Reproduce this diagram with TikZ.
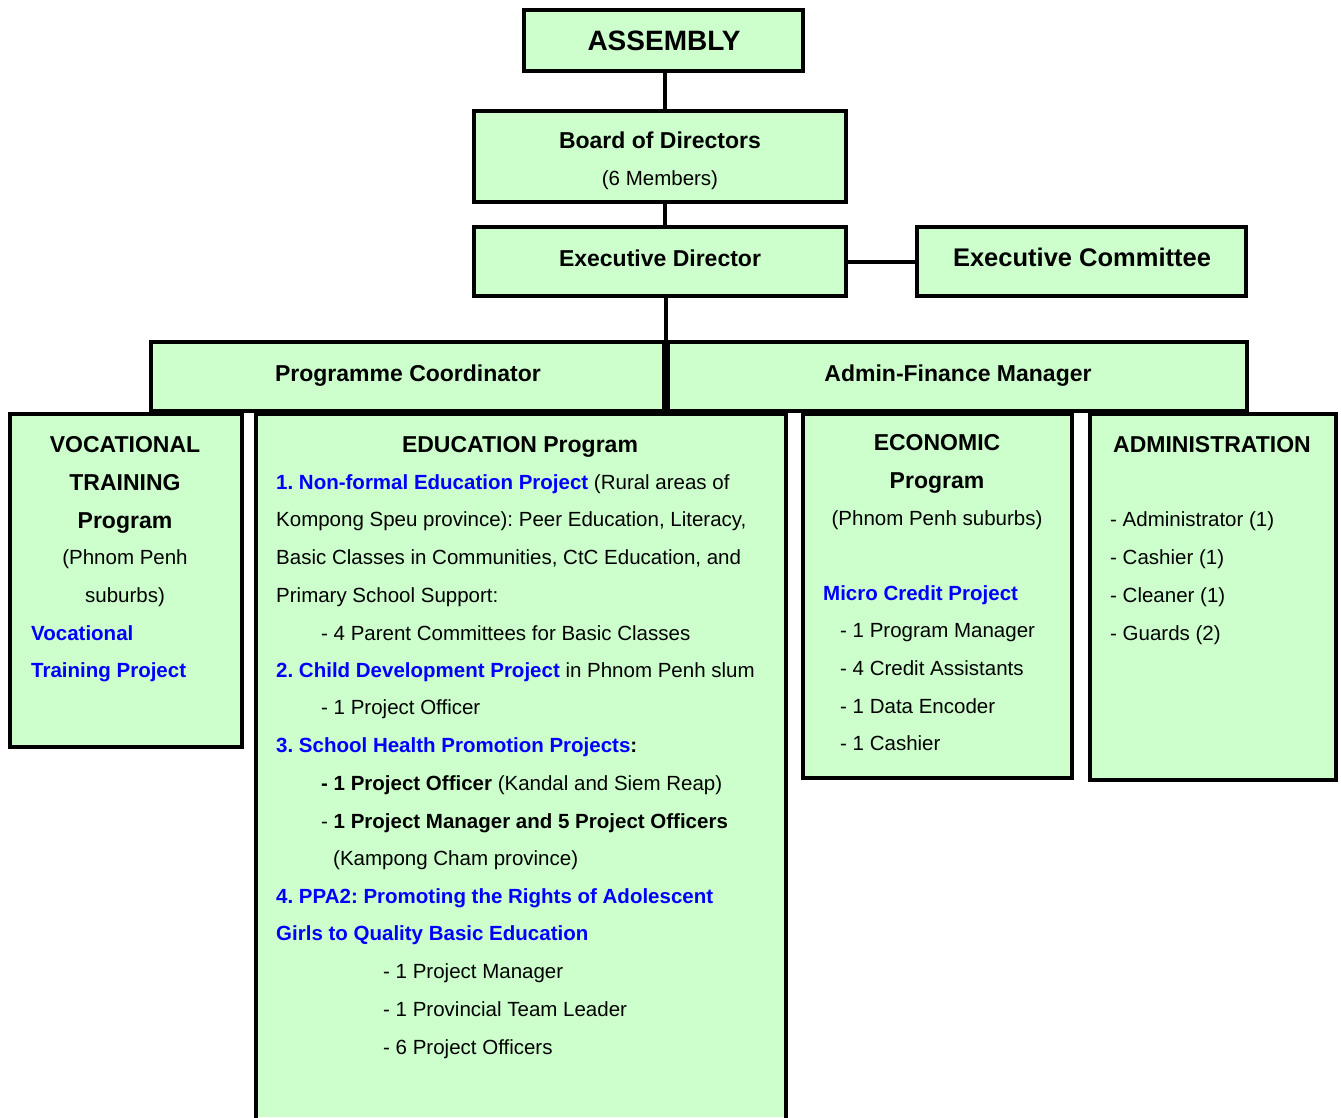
\documentclass[tikz,border=0pt]{standalone}
\usepackage{fontspec}
\setmainfont{Liberation Sans}
\frenchspacing
\definecolor{boxgreen}{HTML}{CCFFCC}
\definecolor{projblue}{HTML}{0000FF}
\newcommand{\fbody}{\fontsize{20.5}{24}\selectfont}
\newcommand{\fhead}{\fontsize{23}{27}\selectfont\bfseries}
\newcommand{\pb}[1]{\textcolor{projblue}{\bfseries #1}}
\begin{document}
\begin{tikzpicture}[x=1pt,y=-1pt,
  box/.style={draw=black, fill=boxgreen, line width=3.2pt, inner sep=0pt, rectangle},
  link/.style={draw=black, line width=4pt},
  tl/.style={anchor=base west, inner sep=0pt, font=\fbody},
  tc/.style={anchor=base, inner sep=0pt, font=\fbody},
  hc/.style={anchor=base, inner sep=0pt, font=\fhead}]
\useasboundingbox (0,0) rectangle (1341,1117);
% top boxes
\node[box, minimum width=279pt, minimum height=61pt] (asm) at (663.5,40.5) {};
\node[box, minimum width=372pt, minimum height=91pt] (bod) at (660,156.5) {};
\node[box, minimum width=372pt, minimum height=69pt] (ed) at (660,261.5) {};
\node[box, minimum width=329pt, minimum height=69pt] (ec) at (1081.5,261.5) {};
\node[box, minimum width=513pt, minimum height=69pt] (pc) at (407.5,376.5) {};
\node[box, minimum width=579pt, minimum height=69pt] (afm) at (957.5,376.5) {};
\coordinate (split) at (665.5,342);
\coordinate (spine) at (664.5,0);
% connectors
\draw[link] (asm.south -| spine) -- (bod.north -| spine);
\draw[link] (bod.south -| spine) -- (ed.north -| spine);
\draw[link] (ed.east) -- (ec.west);
\draw[link] (ed.south -| split) -- (split);
% bottom boxes
\node[box, minimum width=232pt, minimum height=333pt] (voc) at (126,580.5) {};
\fill[boxgreen] (256,414) rectangle (786,1117);
\coordinate (eduTL) at (256,414);
\coordinate (eduTR) at (786,414);
\draw[line width=3.2pt] (256,1120) -- (eduTL) -- (eduTR) -- (786,1120);
\node[box, minimum width=269pt, minimum height=364pt] (eco) at (937.5,596) {};
\node[box, minimum width=246pt, minimum height=366pt] (adm) at (1213,597) {};
% top texts
\node[anchor=base, inner sep=0pt, font=\fontsize{28}{32}\selectfont\bfseries] (tasm) at (664,50) {ASSEMBLY};
\node[hc] (tbod) at (660,148) {Board of Directors};
\node[tc] (tbod2) at (660,185) {(6 Members)};
\node[hc] (ted) at (660,266) {Executive Director};
\node[anchor=base, inner sep=0pt, font=\fontsize{25.5}{30}\selectfont\bfseries] (tec) at (1082,266) {Executive Committee};
\node[hc] (tpc) at (408,381) {Programme Coordinator};
\node[hc] (tafm) at (958,381) {Admin-Finance Manager};
% vocational
\node[hc] (v1) at (125,452) {VOCATIONAL};
\node[hc] (v2) at (125,490) {TRAINING};
\node[hc] (v3) at (125,528) {Program};
\node[tc] (v4) at (125,564) {(Phnom Penh};
\node[tc] (v5) at (125,602) {suburbs)};
\node[tl] (v6) at (31,640) {\pb{Vocational}};
\node[tl] (v7) at (31,677) {\pb{Training Project}};
% education
\node[hc] (e0) at (520,452) {EDUCATION Program};
\node[tl] (e1) at (276,489) {\pb{1. Non-formal Education Project} (Rural areas of};
\node[tl] (e2) at (276,526) {Kompong Speu province): Peer Education, Literacy,};
\node[tl] (e3) at (276,564) {Basic Classes in Communities, CtC Education, and};
\node[tl] (e4) at (276,602) {Primary School Support:};
\node[tl] (e5) at (321,640) {- 4 Parent Committees for Basic Classes};
\node[tl] (e6) at (276,677) {\pb{2. Child Development Project} in Phnom Penh slum};
\node[tl] (e7) at (321,714) {- 1 Project Officer};
\node[tl] (e8) at (276,752) {\pb{3. School Health Promotion Projects}\textbf{:}};
\node[tl] (e9) at (321,790) {\textbf{- 1 Project Officer} (Kandal and Siem Reap)};
\node[tl] (e10) at (321,828) {- \textbf{1 Project Manager and 5 Project Officers}};
\node[tl] (e11) at (333,865) {(Kampong Cham province)};
\node[tl] (e12) at (276,903) {\pb{4. PPA2: Promoting the Rights of Adolescent}};
\node[tl] (e13) at (276,940) {\pb{Girls to Quality Basic Education}};
\node[tl] (e14) at (383,978) {- 1 Project Manager};
\node[tl] (e15) at (383,1016) {- 1 Provincial Team Leader};
\node[tl] (e16) at (383,1054) {- 6 Project Officers};
% economic
\node[hc] (c1) at (937,450) {ECONOMIC};
\node[hc] (c2) at (937,488) {Program};
\node[tc] (c3) at (937,525) {(Phnom Penh suburbs)};
\node[tl] (c4) at (823,600) {\pb{Micro Credit Project}};
\node[tl] (c5) at (840,637) {- 1 Program Manager};
\node[tl] (c6) at (840,675) {- 4 Credit Assistants};
\node[tl] (c7) at (840,713) {- 1 Data Encoder};
\node[tl] (c8) at (840,750) {- 1 Cashier};
% administration
\node[hc] (a1) at (1212,452) {ADMINISTRATION};
\node[tl] (a2) at (1110,526) {- Administrator (1)};
\node[tl] (a3) at (1110,564) {- Cashier (1)};
\node[tl] (a4) at (1110,602) {- Cleaner (1)};
\node[tl] (a5) at (1110,640) {- Guards (2)};
\end{tikzpicture}
\end{document}
